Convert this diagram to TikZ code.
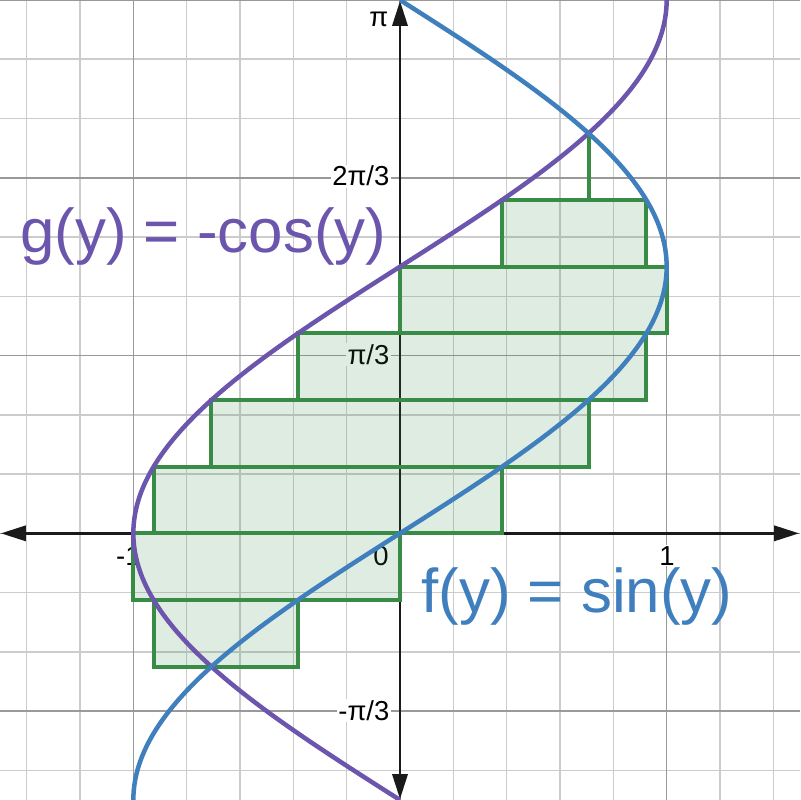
\documentclass[tikz,border=0pt]{standalone}
\usepackage{fontspec}
\setmainfont{Liberation Sans}
\usetikzlibrary{arrows.meta}
\definecolor{gridminor}{HTML}{CCCCCC}
\definecolor{gridmajor}{HTML}{999999}
\definecolor{fblue}{HTML}{407FBD}
\definecolor{gpurple}{HTML}{6B55AD}
\definecolor{rgreen}{HTML}{388C46}
\definecolor{axisblack}{HTML}{1A1A1A}
\tikzset{
  minorgrid/.style={draw=gridminor, line width=1.1pt},
  majorgrid/.style={draw=gridmajor, line width=1.1pt},
  axisline/.style={draw=axisblack, line width=1.8pt,
    {Triangle[length=0.62cm,width=0.38cm]}-{Triangle[length=0.62cm,width=0.38cm]}},
  ticklabel/.style={fill=white, inner sep=1pt, text=black,
    font=\fontsize{19.5}{22}\selectfont},
  riemann/.style={draw=rgreen, line width=2.8pt, fill=rgreen, fill opacity=0.157,
    draw opacity=1, line join=miter},
  curve/.style={line width=3.2pt, samples=300, domain=-90:180},
  biglabel/.style={inner sep=0pt, font=\fontsize{44}{52}\selectfont}
}
\begin{document}
\begin{tikzpicture}[x=0.025cm, y=-0.025cm]
\useasboundingbox (0,0) rectangle (800,800);
\clip (0,0) rectangle (800,800);
\fill[white] (0,0) rectangle (800,800);
% grid
\foreach \k in {-7,...,7} {
  \pgfmathsetmacro\gx{400+53.3333*\k}
  \draw[minorgrid] (\gx,0) -- (\gx,800);
}
\foreach \k in {-4,...,9} {
  \pgfmathsetmacro\gy{533.3333-59.2593*\k}
  \draw[minorgrid] (0,\gy) -- (800,\gy);
}
\foreach \k in {-1,0,1} {
  \pgfmathsetmacro\gx{400+266.6667*\k}
  \draw[majorgrid] (\gx,0) -- (\gx,800);
}
\foreach \k in {-1,0,1,2,3} {
  \pgfmathsetmacro\gy{533.3333-177.7778*\k}
  \draw[majorgrid] (0,\gy) -- (800,\gy);
}
% axes
\coordinate (xl) at (1,533.333);
\coordinate (xr) at (799,533.333);
\coordinate (yb) at (400,799);
\coordinate (yt) at (400,1);
\draw[axisline] (xl) -- (xr);
\draw[axisline] (yb) -- (yt);
% tick labels
\node[ticklabel, anchor=base east] (lpi) at (390,27) {π};
\node[ticklabel, anchor=base east] (l2pi3) at (391,186) {2π/3};
\node[ticklabel, anchor=base east] (lpi3) at (391,364) {π/3};
\node[ticklabel, anchor=base east] (lmpi3) at (391,720) {-π/3};
\node[ticklabel, anchor=base] (lzero) at (381,565) {0};
\node[ticklabel, anchor=base] (lone) at (667,565) {1};
\node[ticklabel, anchor=base] (lmone) at (133,565) {\llap{-}1};
% Riemann rectangles
\foreach \k in {-1,...,6} {
  \pgfmathsetmacro\xl{400-266.6667*cos(22.5*\k)}
  \pgfmathsetmacro\xr{400+266.6667*sin(22.5*\k)}
  \pgfmathsetmacro\yt{533.3333-66.6667*\k}
  \pgfmathsetmacro\yb{\yt+66.6667}
  \draw[riemann] (\xl,\yt) rectangle (\xr,\yb);
}
% curves
\draw[curve, draw=gpurple] plot ({400-266.6667*cos(\x)}, {533.3333-2.962963*\x});
\draw[curve, draw=fblue] plot ({400+266.6667*sin(\x)}, {533.3333-2.962963*\x});
% labels
\node[biglabel, text=gpurple, anchor=base west] (glab) at (20,252) {g(y) = -cos(y)};
\node[biglabel, text=fblue, anchor=base west] (flab) at (421,612) {f(y) = sin(y)};
\end{tikzpicture}
\end{document}
